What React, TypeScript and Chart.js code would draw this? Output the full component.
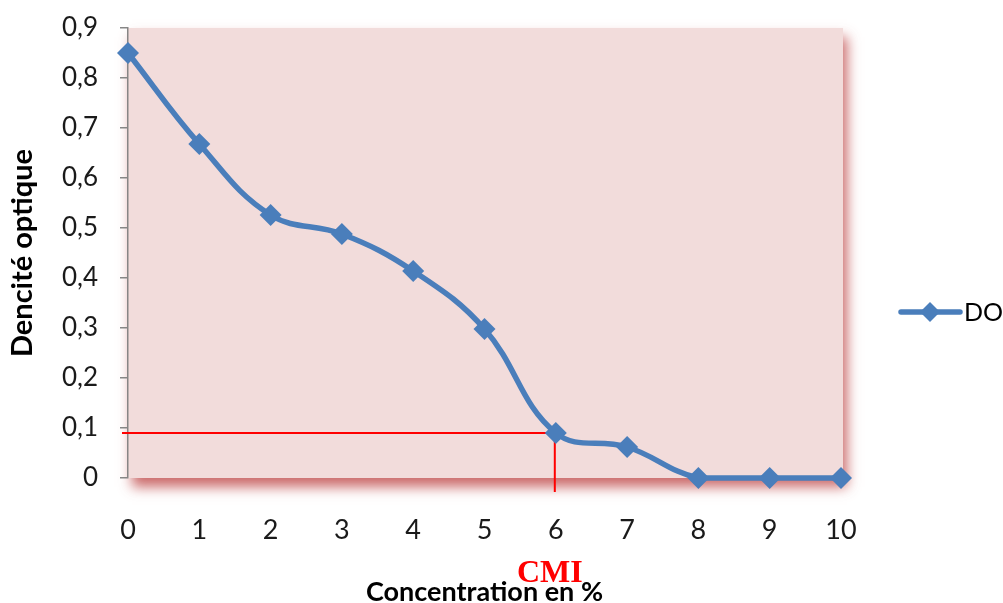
import React, { useEffect, useRef } from "react";
import { Chart, registerables } from "chart.js";

Chart.register(...registerables);

const categories = ["0", "1", "2", "3", "4", "5", "6", "7", "8", "9", "10"];
const doValues = [0.85, 0.668, 0.526, 0.488, 0.414, 0.298, 0.09, 0.062, 0, 0, 0];
const yTickValues = [0, 0.1, 0.2, 0.3, 0.4, 0.5, 0.6, 0.7, 0.8, 0.9];
const yTickLabels = ["0", "0,1", "0,2", "0,3", "0,4", "0,5", "0,6", "0,7", "0,8", "0,9"];
const cmiIndex = 6;
const cmiValue = 0.09;
const seriesName = "DO";
const cmiLabel = "CMI";
const xTitle = "Concentration en %";
const yTitle = "Dencité optique";

const BLUE = "#4a7ebb";

const decorPlugin = {
  id: "decor",
  beforeDraw(chart: any) {
    const { ctx, chartArea } = chart;
    const { left, top, right, bottom } = chartArea;
    ctx.save();
    ctx.shadowColor = "rgba(190, 70, 70, 0.8)";
    ctx.shadowBlur = 12;
    ctx.shadowOffsetX = 4;
    ctx.shadowOffsetY = 9;
    ctx.fillStyle = "#f2dcdb";
    ctx.fillRect(left, top, right - left + 2, bottom - top);
    ctx.restore();
    ctx.save();
    ctx.fillStyle = "#f2dcdb";
    ctx.fillRect(left, top, right - left + 2, bottom - top);
    ctx.restore();
  },
  beforeDatasetsDraw(chart: any) {
    const { ctx, scales } = chart;
    const xs = scales.x;
    const ys = scales.y;
    const px = xs.getPixelForValue(cmiIndex) - 1;
    const py = ys.getPixelForValue(cmiValue);
    ctx.save();
    ctx.strokeStyle = "#ff0000";
    ctx.lineWidth = 2;
    ctx.beginPath();
    ctx.moveTo(xs.left - 6, py);
    ctx.lineTo(px, py);
    ctx.lineTo(px, ys.bottom + 14);
    ctx.stroke();
    ctx.restore();
  },
  afterDraw(chart: any) {
    const { ctx, scales } = chart;
    const xs = scales.x;
    const px = xs.getPixelForValue(cmiIndex) - 6;
    ctx.save();
    // CMI label
    ctx.fillStyle = "#ff0000";
    ctx.font = "bold 32px 'Liberation Serif', 'DejaVu Serif', serif";
    ctx.textAlign = "center";
    ctx.textBaseline = "alphabetic";
    ctx.fillText(cmiLabel, px, 582);
    // Legend
    const ly = 312;
    ctx.strokeStyle = BLUE;
    ctx.lineWidth = 5.5;
    ctx.lineCap = "round";
    ctx.beginPath();
    ctx.moveTo(901, ly);
    ctx.lineTo(960, ly);
    ctx.stroke();
    ctx.fillStyle = BLUE;
    ctx.beginPath();
    ctx.moveTo(930, ly - 10);
    ctx.lineTo(940, ly);
    ctx.lineTo(930, ly + 10);
    ctx.lineTo(920, ly);
    ctx.closePath();
    ctx.fill();
    ctx.fillStyle = "#000";
    ctx.font = "25px Lato, 'Open Sans', sans-serif";
    ctx.textAlign = "left";
    ctx.textBaseline = "middle";
    ctx.fillText(seriesName, 964, ly + 1);
    ctx.restore();
  },
};

export default function App() {
  const canvasRef = useRef<HTMLCanvasElement | null>(null);

  useEffect(() => {
    if (!canvasRef.current) return;
    const chart = new Chart(canvasRef.current, {
      type: "line",
      data: {
        labels: categories,
        datasets: [
          {
            label: seriesName,
            data: doValues,
            borderColor: BLUE,
            backgroundColor: BLUE,
            borderWidth: 5.5,
            tension: 0.4,
            pointStyle: "rectRot",
            pointRadius: 11,
            pointHoverRadius: 11,
            pointBackgroundColor: BLUE,
            pointBorderColor: BLUE,
            pointBorderWidth: 0,
            clip: false as any,
          },
        ],
      },
      options: {
        responsive: false,
        animation: false,
        layout: { padding: { top: 28, right: 162, left: 0, bottom: 0 } },
        plugins: {
          legend: { display: false },
          tooltip: { enabled: false },
        },
        scales: {
          x: {
            type: "category",
            offset: false,
            grid: { display: false, drawTicks: false },
            border: { display: false },
            ticks: {
              color: "#1a1a1a",
              font: { family: "Lato, 'Open Sans', sans-serif", size: 27, lineHeight: 1.2 },
              padding: 36,
              maxRotation: 0,
              autoSkip: false,
            },
            title: {
              display: true,
              text: xTitle,
              color: "#000",
              font: { family: "Lato, 'Open Sans', sans-serif", size: 27, weight: "bold", lineHeight: 1 },
              padding: { top: 0, bottom: -3 },
            },
            afterFit(scale: any) {
              scale.height = 125;
            },
          },
          y: {
            type: "linear",
            min: 0,
            max: 0.9,
            grid: {
              drawOnChartArea: false,
              drawTicks: true,
              tickLength: 8,
              color: "#868686",
              lineWidth: 1.5,
            },
            border: { display: true, color: "#868686", width: 1.5 },
            afterBuildTicks(scale: any) {
              scale.ticks = yTickValues.map((v) => ({ value: v }));
            },
            ticks: {
              color: "#1a1a1a",
              font: { family: "Lato, 'Open Sans', sans-serif", size: 26 },
              padding: 22,
              callback: (_v: any, i: number) => yTickLabels[i],
            },
            title: {
              display: true,
              text: yTitle,
              color: "#000",
              font: { family: "Lato, 'Open Sans', sans-serif", size: 29, weight: "bold", lineHeight: 1 },
              padding: { top: 8, bottom: 0 },
            },
            afterFit(scale: any) {
              scale.width = 128;
              scale.paddingTop = 0;
              scale.paddingBottom = 0;
            },
          },
        },
      },
      plugins: [decorPlugin],
    });
    return () => chart.destroy();
  }, []);

  return (
    <div style={{ position: "fixed", left: 0, top: 0, width: 1003, height: 603, background: "#fff" }}>
      <canvas ref={canvasRef} width={1003} height={603} style={{ display: "block" }} />
    </div>
  );
}
